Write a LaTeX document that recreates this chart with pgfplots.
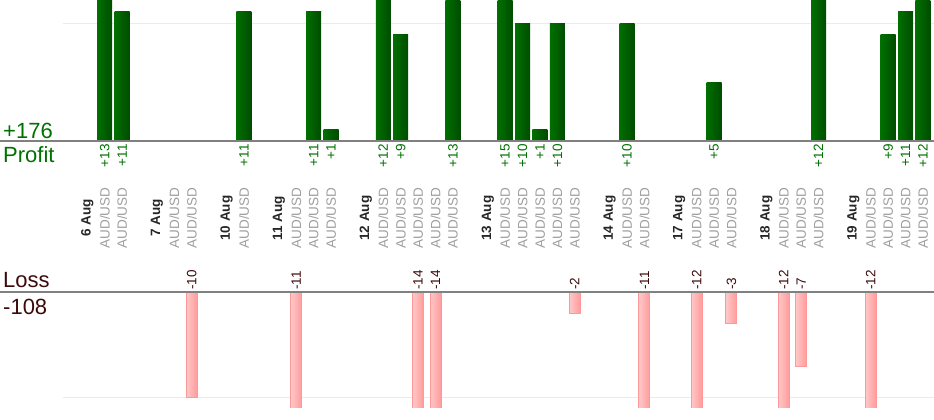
\documentclass[border=0pt]{standalone}
\usepackage{pgfplots}
\pgfplotsset{compat=1.18}
\usepackage{pgfplotstable}
\usepackage{fontspec}
\setmainfont{Liberation Sans}
\definecolor{pgreen}{HTML}{007000}
\definecolor{pgreenD}{HTML}{004C00}
\definecolor{ltext}{HTML}{3C0A0A}
\definecolor{pinkL}{HTML}{FFC8C8}
\definecolor{pinkR}{HTML}{FF9A9A}
\definecolor{pinkB}{HTML}{FF9999}

\pgfplotstableread{
x y
1 13
2 11
9 11
13 11
14 1
17 12
18 9
21 13
24 15
25 10
26 1
27 10
31 10
36 5
42 12
46 9
47 11
48 12
}\profit

\pgfplotstableread{
x y
6 -10
12 -11
19 -14
20 -14
28 -2
32 -11
35 -12
37 -3
40 -12
41 -7
45 -12
}\loss

\pgfplotsset{base/.style={scale only axis, width=934pt, xmin=-5.014, xmax=48.633,
  axis line style={draw=none}, major tick length=0pt, ytick=\empty,
  /pgf/number format/assume math mode=true},
  gbar/.style={ybar, bar width=15pt, bar shift=0pt, draw=none, left color=pgreen, right color=pgreenD},
  pbar/.style={ybar, bar width=11pt, bar shift=0pt, draw=pinkB, line width=1pt, left color=pinkL, right color=pinkR}}

\begin{document}
\begin{tikzpicture}
\useasboundingbox (0pt,0pt) rectangle (934pt,-420pt);
\begin{axis}[base, at={(0pt,-141pt)}, anchor=south west, height=141pt, ymin=0, ymax=11.95,
  xtick={1,2,5,6,9,12,13,14,17,18,19,20,21,24,25,26,27,28,31,32,35,36,37,40,41,42,45,46,47,48},
  xticklabels={AUD/USD,AUD/USD,AUD/USD,AUD/USD,AUD/USD,AUD/USD,AUD/USD,AUD/USD,AUD/USD,AUD/USD,
    AUD/USD,AUD/USD,AUD/USD,AUD/USD,AUD/USD,AUD/USD,AUD/USD,AUD/USD,AUD/USD,AUD/USD,
    AUD/USD,AUD/USD,AUD/USD,AUD/USD,AUD/USD,AUD/USD,AUD/USD,AUD/USD,AUD/USD,AUD/USD},
  xticklabel style={rotate=90, anchor=center, font=\fontsize{13.5}{14}\selectfont, text=black!38},
  xticklabel shift=77pt,
  extra x ticks={0,4,8,11,16,23,30,34,39,44},
  extra x tick labels={6 Aug,7 Aug,10 Aug,11 Aug,12 Aug,13 Aug,14 Aug,17 Aug,18 Aug,19 Aug},
  extra x tick style={xticklabel style={font=\fontsize{13.5}{14}\selectfont\bfseries, text=black!85}},
]
\draw[black!8, line width=1pt] (axis cs:-1.396,10) -- (axis cs:48.633,10);
\pgfplotsinvokeforeach{0,...,17}{
  \addplot[gbar, x filter/.code={\ifnum\coordindex=#1\relax\else\let\pgfmathresult\empty\fi}]
    table[x=x,y=y] {\profit};
}
\addplot[draw=none, mark=none, point meta=explicit,
  nodes near coords={\pgfmathprintnumber[print sign]{\pgfplotspointmeta}},
  nodes near coords style={yshift=-3pt, rotate=90, anchor=east, inner sep=0pt,
    font=\fontsize{13.5}{14}\selectfont, text=pgreen}]
  table[x=x, y expr=0, meta=y] {\profit};
\end{axis}
\begin{axis}[base, at={(0pt,-407pt)}, anchor=south west, height=115pt, ymin=-10.85, ymax=0,
  xtick=\empty]
\draw[black!8, line width=1pt] (axis cs:-1.396,-10) -- (axis cs:48.633,-10);
\pgfplotsinvokeforeach{0,...,10}{
  \addplot[pbar, x filter/.code={\ifnum\coordindex=#1\relax\else\let\pgfmathresult\empty\fi}]
    table[x=x,y=y] {\loss};
}
\addplot[draw=none, mark=none, point meta=explicit,
  nodes near coords={\pgfmathprintnumber{\pgfplotspointmeta}},
  nodes near coords style={yshift=2pt, rotate=90, anchor=west, inner sep=0pt,
    font=\fontsize{13.5}{14}\selectfont, text=ltext}]
  table[x=x, y expr=0, meta=y] {\loss};
\end{axis}
\draw[black!50, line width=1.2pt] (0pt,-141pt) -- (934pt,-141pt);
\draw[black!50, line width=1.2pt] (0pt,-292pt) -- (934pt,-292pt);
\node[anchor=base west, inner sep=0pt, font=\fontsize{22}{24}\selectfont, text=pgreen] at (3pt,-138pt) {+176};
\node[anchor=base west, inner sep=0pt, font=\fontsize{22}{24}\selectfont, text=pgreen] at (3pt,-162pt) {Profit};
\node[anchor=base west, inner sep=0pt, font=\fontsize{22}{24}\selectfont, text=ltext] at (3pt,-287pt) {Loss};
\node[anchor=base west, inner sep=0pt, font=\fontsize{22}{24}\selectfont, text=ltext] at (3pt,-314pt) {-108};
\end{tikzpicture}
\end{document}
